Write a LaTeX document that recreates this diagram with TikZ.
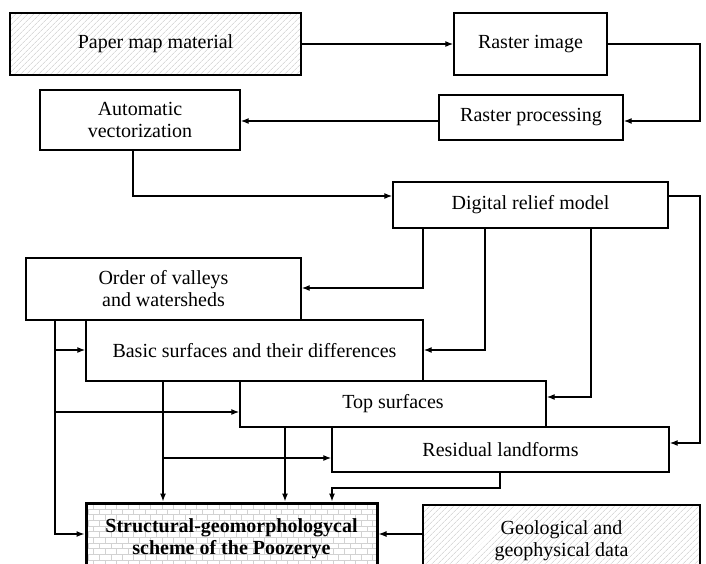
\documentclass[tikz,border=0pt]{standalone}
\usepackage{fontspec}
\setmainfont{Liberation Serif}
\usetikzlibrary{positioning,calc,arrows.meta,patterns,patterns.meta}
\tikzset{>={Latex[length=8pt,width=6pt]}}
\tikzset{box/.style={draw,rectangle,line width=1.4pt,inner sep=0pt,align=center,font=\fontsize{20}{22}\selectfont}  }
\tikzset{hbox/.style={box,pattern={Lines[angle=45,distance=4pt,line width=0.6pt]},pattern color=gray!45}  }
\tikzset{mainbox/.style={box,line width=3pt,pattern=bricks,pattern color=gray!35,font=\bfseries\fontsize{20}{22}\selectfont}  }
\tikzset{link/.style={line width=1.3pt}  }

\begin{document}
\begin{tikzpicture}[x=1pt,y=-1pt]
	\useasboundingbox (0,0) rectangle (706,563);
	\clip (0,0) rectangle (706,563);
		\node[hbox,minimum width=291pt,minimum height=62pt] (paper) at (155.5,44) {Paper map material};
		\node[box,minimum width=153pt,minimum height=62pt] (raster) at (530.5,44) {Raster image};
		\node[box,minimum width=184pt,minimum height=45pt] (rproc) at (531,117.5) {Raster processing};
		\node[box,minimum width=200pt,minimum height=60pt] (autov) at (140,120) {Automatic\\vectorization};
		\node[box,minimum width=275pt,minimum height=46pt] (drm) at (530.5,205) {Digital relief model};
		\node[box,minimum width=275pt,minimum height=62pt] (order) at (163.5,289) {Order of valleys\\and watersheds};
		\node[box,minimum width=337pt,minimum height=61pt] (basic) at (254.5,350.5) {Basic surfaces and their differences};
		\node[box,minimum width=306pt,minimum height=46pt] (top) at (393,404) {Top surfaces};
		\node[box,minimum width=337pt,minimum height=45pt] (resid) at (500.5,449.5) {Residual landforms};
		\node[mainbox,minimum width=291pt,minimum height=72pt] (struct) at (231.5,539) {Structural-geomorphologycal\\scheme of the Poozerye};
		\node[hbox,minimum width=277pt,minimum height=72pt] (geo) at (561.5,541) {Geological and\\geophysical data};
			\coordinate (r1) at (700,121);
			\coordinate (v1) at (133,196);
			\coordinate (d1) at (700,443);
			\coordinate (o1) at (55,534);
			\coordinate (b1) at (163,458);
			\coordinate (t1) at (285,0);
			\coordinate (e1) at (500,488);
			\coordinate (e2) at (332,488);
	\draw[link,->] (paper) -- (raster);
	\draw[link,->] (raster.east) -| (r1) -- (r1 -| rproc.east);
	\draw[link,->] (r1 -| rproc.west) -- (r1 -| autov.east);
	\draw[link,->] (v1 |- autov.south) -- (v1) -- (v1 -| drm.west);
	\draw[link,->] (v1 -| drm.east) -| (d1) -- (d1 -| resid.east);
	% links from the relief model
	\draw[link,->] (423,0 |- drm.south) |- (order.east |- 0,288);
	\draw[link,->] (485,0 |- drm.south) |- (basic.east |- 0,350);
	\draw[link,->] (591,0 |- drm.south) |- (top.east |- 0,397);
	% links to the scheme
	\draw[link,->] (o1 |- order.south) -- (o1) -- (o1 -| struct.west);
	\draw[link,->] (55,350) -- (basic.west |- 0,350);
	\draw[link,->] (55,412) -- (top.west |- 0,412);
	\draw[link,->] (b1 |- basic.south) -- (b1 |- struct.north);
	\draw[link,->] (b1) -- (b1 -| resid.west);
	\draw[link,->] (t1 |- top.south) -- (t1 |- struct.north);
	\draw[link,->] (e1 |- resid.south) -- (e1) -- (e2) -- (e2 |- struct.north);
	\draw[link,->] (o1 -| geo.west) -- (o1 -| struct.east);
\end{tikzpicture}
\end{document}
